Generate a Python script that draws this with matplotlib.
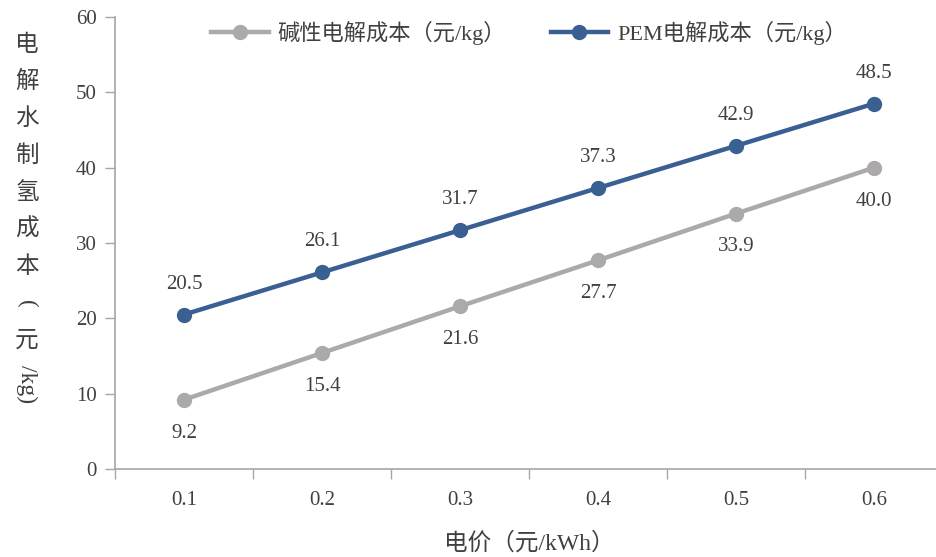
import matplotlib.pyplot as plt

plt.rcParams['font.family'] = ['Liberation Serif', 'Noto Sans CJK SC']

prices = ["0.1", "0.2", "0.3", "0.4", "0.5", "0.6"]
alk_cost = [9.2, 15.4, 21.6, 27.7, 33.9, 40.0]
pem_cost = [20.5, 26.1, 31.7, 37.3, 42.9, 48.5]

gray = "#ABA9A9"
blue = "#3A5F92"
axis_col = "#A6A6A6"
text_col = "#404040"

fig = plt.figure(figsize=(9.37, 5.57), dpi=100)
ax = fig.add_axes([115 / 937, 88 / 557, 828 / 937, 452 / 557])

x = list(range(len(prices)))
ax.plot(x, alk_cost, color=gray, lw=3.2, marker="o", ms=10, label="碱性电解成本（元/kg）")
ax.plot(x, pem_cost, color=blue, lw=3.2, marker="o", ms=10, label="PEM电解成本（元/kg）")

for i, v in enumerate(alk_cost):
    ax.annotate(f"{v:.1f}", (i, v), xytext=(0, -24), textcoords="offset points",
                ha="center", va="center", fontsize=15, color=text_col)
for i, v in enumerate(pem_cost):
    ax.annotate(f"{v:.1f}", (i, v), xytext=(0, 22), textcoords="offset points",
                ha="center", va="center", fontsize=15, color=text_col)

ax.set_xlim(-0.5, 5.5)
ax.set_ylim(0, 60)
ax.set_xticks(x)
ax.set_xticklabels(prices)
ax.set_xticks([i - 0.5 for i in range(len(prices) + 1)], minor=True)
ax.tick_params(axis="x", which="major", length=0, pad=16, labelsize=15, labelcolor=text_col)
ax.tick_params(axis="x", which="minor", length=7, color=axis_col, width=1)
ax.tick_params(axis="y", length=7, color=axis_col, width=1, labelsize=15, labelcolor=text_col, pad=6)

for s in ["top", "right"]:
    ax.spines[s].set_visible(False)
for s in ["left", "bottom"]:
    ax.spines[s].set_color(axis_col)
    ax.spines[s].set_linewidth(1.2)

ax.set_xlabel("电价（元/kWh）", fontsize=17, color=text_col, labelpad=16)

# vertical stacked y label
ylab = [("电", 0), ("解", 0), ("水", 0), ("制", 0), ("氢", 0), ("成", 0), ("本", 0),
        ("(", 270), ("元", 0), ("/kg)", 270)]
y0 = 45
for ch, rot in ylab:
    yy = y0 + 6 if ch == "/kg)" else y0
    fig.text(27 / 937, 1 - yy / 557, ch, rotation=rot, ha="center", va="center",
             fontsize=17, color=text_col)
    y0 += 37

ax.legend(loc="upper center", bbox_to_anchor=(0.5, 1.035), ncol=2, frameon=False,
          fontsize=16, handlelength=2.6, handletextpad=0.4, columnspacing=2.0,
          labelcolor=text_col)

fig.savefig("out.png", dpi=100)
